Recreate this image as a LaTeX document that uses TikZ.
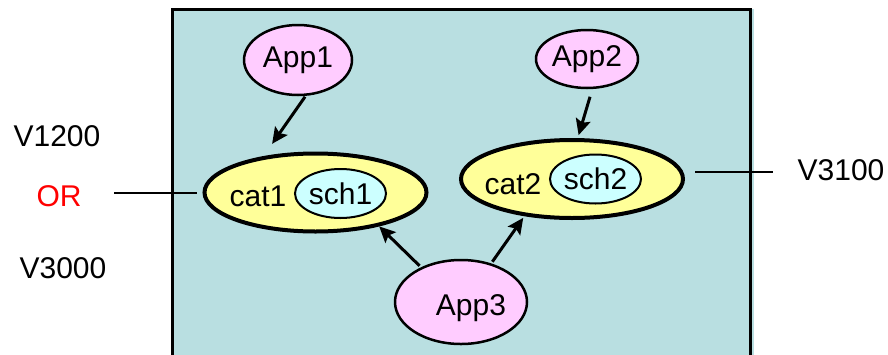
\documentclass[tikz,border=0pt]{standalone}
\usepackage{fontspec}
\setmainfont{Liberation Sans}
\usetikzlibrary{arrows.meta}
\usetikzlibrary{shapes.geometric, positioning}
\definecolor{bgteal}{RGB}{185,223,225}
\definecolor{apppink}{RGB}{255,204,255}
\definecolor{catyellow}{RGB}{255,255,153}
\definecolor{schcyan}{RGB}{204,255,255}
\tikzset{
    app/.style={
        ellipse,
        draw=black,
        fill=apppink,
        line width=2.5pt,
        inner sep=0pt
    },
    cat/.style={
        ellipse,
        draw=black,
        fill=catyellow,
        line width=4pt,
        inner sep=0pt,
        minimum width=222pt,
        minimum height=78pt
    },
    sch/.style={
        ellipse,
        draw=black,
        fill=schcyan,
        line width=2pt,
        inner sep=0pt,
        minimum width=91pt,
        minimum height=49pt
    },
    arrow/.style={
        ->,
        >={Stealth[length=16pt,width=15pt,inset=3pt]},
        line width=3pt,
        draw=black
    }
}

\begin{document}
\begin{tikzpicture}[
    x=1pt, y=-1pt,
    every node/.style={font=\fontsize{30}{36}\selectfont}
]
\clip (0,0) rectangle (888,354);

% 1. Background box
\fill[bgteal] (172,9) rectangle (754,370);
\draw[line width=3pt] (172,370) -- (172,9) -- (750,9) -- (750,370);

% 2. Catalogs with schemas
\node[cat] (cat1) at (315.5,192.5) {};
\node[sch] (sch1) at (340.5,193.5) {sch1};
\node (cat1text) at (258,196) {cat1};
\node[cat] (cat2) at (572,179) {};
\node[sch] (sch2) at (595.5,179) {sch2};
\node (cat2text) at (513,184) {cat2};

% 3. Applications
\node[app, minimum width=108pt, minimum height=70pt] (app1) at (298,60) {App1};
\node[app, minimum width=102pt, minimum height=58pt] (app2) at (587,59) {App2};
\node[app, minimum width=132pt, minimum height=84pt] (app3) at (461,302) {\hspace{20pt}App3\rule{0pt}{34pt}};

% 4. Versions
\node (v1200) at (57,136) {V1200};
\node[text=red] (or) at (59,196) {OR};
\node (v3000) at (63,268) {V3000};
\node (v3100) at (841,170) {V3100};
\coordinate (orline) at (114,193);
\coordinate (v3100line) at (773,172);

% 5. Connections
\draw[arrow, shorten <=1pt, shorten >=15pt] (app1.-78) -- (cat1.145);
\draw[arrow, shorten <=8pt, shorten >=3pt] (app2.-80) -- (cat2.82);
\draw[arrow, shorten <=2pt] (app3.139) -- (cat1.-28);
\draw[arrow, shorten <=2pt, shorten >=2pt] (app3.52) -- (cat2.-142);
\draw[line width=2pt, shorten >=6pt] (orline) -- (orline -| cat1.west);
\draw[line width=2pt, shorten <=10pt] (cat2.east |- v3100line) -- (v3100line);

\end{tikzpicture}
\end{document}
